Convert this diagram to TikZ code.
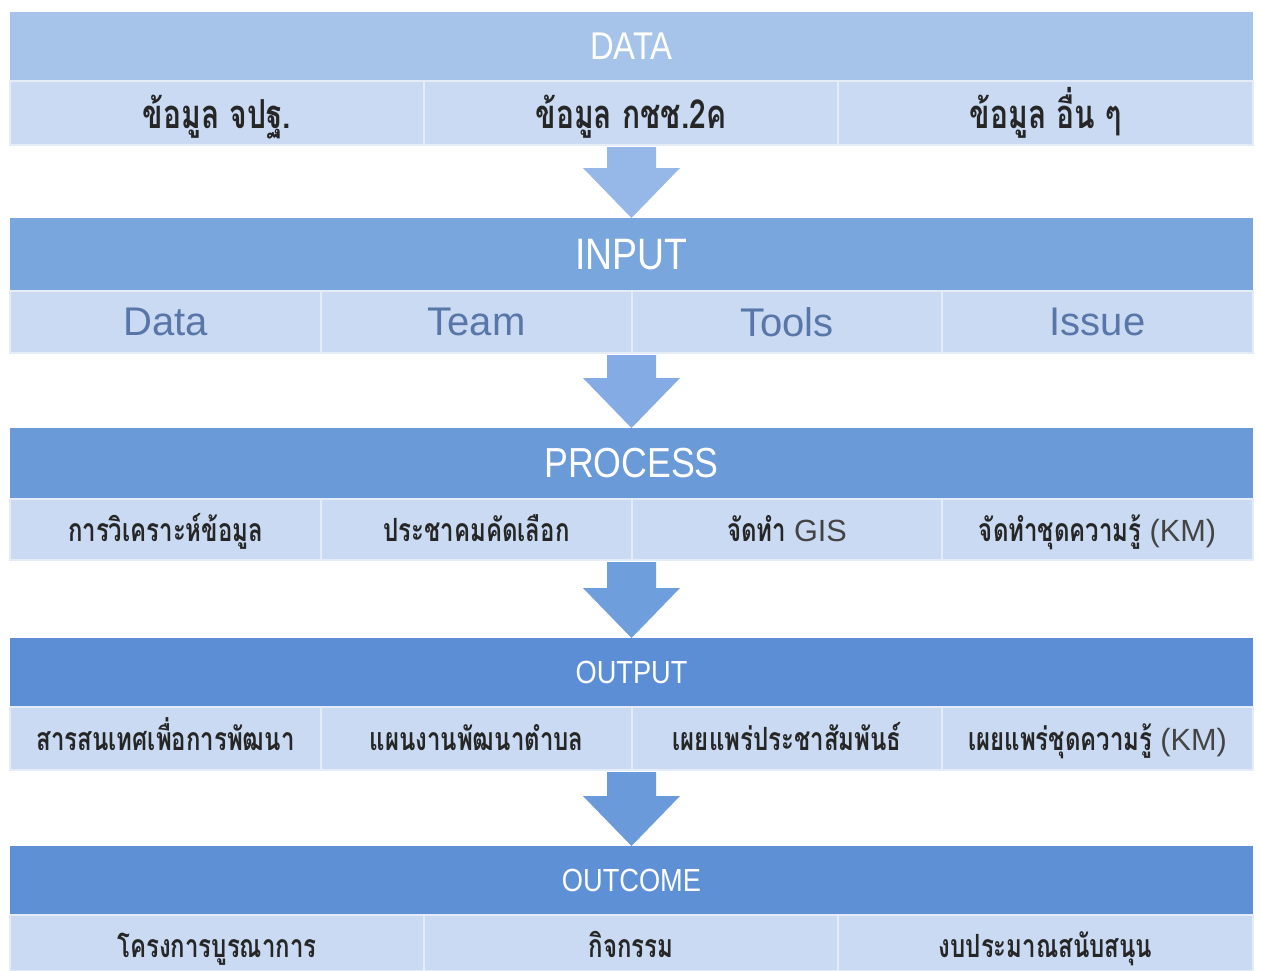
\documentclass[tikz,border=0pt]{standalone}
\usepackage{fontspec}
\setmainfont{Liberation Sans}
\newfontfamily\hdrfont[FakeStretch=0.85]{Liberation Sans}
\newfontfamily\thfont[Script=Thai,FakeStretch=0.75]{Loma}
\usetikzlibrary{calc}
\definecolor{hdrA}{HTML}{A6C3EA}
\definecolor{hdrB}{HTML}{7AA6DE}
\definecolor{hdrC}{HTML}{6B9AD8}
\definecolor{hdrD}{HTML}{5C8ED6}
\definecolor{hdrE}{HTML}{5E90D6}
\definecolor{subc}{HTML}{C9DAF2}
\definecolor{divc}{HTML}{E4ECF8}
\definecolor{arrA}{HTML}{96B8E9}
\definecolor{arrB}{HTML}{84ABE3}
\definecolor{arrC}{HTML}{6F9EDC}
\definecolor{arrD}{HTML}{6A9ADA}
\definecolor{thtext}{HTML}{262626}
\definecolor{intext}{HTML}{5877A8}
\definecolor{lttext}{HTML}{444444}
\newcommand\thA{\thfont\bfseries\fontsize{30}{30}\selectfont}
\newcommand\thB{\thfont\bfseries\fontsize{24}{25}\selectfont}
\newcommand\ltB[1]{{\normalfont\color{lttext}\fontsize{23}{23}\selectfont #1}}
\newcommand\cellbox[7]{\node[#6, minimum width={(#4-#2)*0.75pt}, minimum height={(#5-#3)*0.75pt}] (#1) at ({(#2+#4)/2},{(#3+#5)/2}) {#7};}
\newcommand\blockarrow[3]{%
  \fill[#3] ($(#1)+(-24.5,2)$) -- ($(#2)+(-24.5,-50)$) -- ($(#2)+(-48.5,-50)$) -- (#2)
    -- ($(#2)+(48.5,-50)$) -- ($(#2)+(24.5,-50)$) -- ($(#1)+(24.5,2)$) -- cycle;}
\begin{document}
\begin{tikzpicture}[x=0.75pt,y=-0.75pt,
  hdr/.style={fill=#1, text=white, inner sep=0pt, outer sep=0pt},
  sub/.style={fill=subc, draw=divc, line width=1pt, inner sep=0pt, outer sep=0pt, text=thtext},
  subA/.style={sub, text height=25.5pt, text depth=3pt},
  subB/.style={sub, text height=20.5pt, text depth=3pt},
  subC/.style={sub, text height=24pt, text depth=3pt},
  insub/.style={sub, text=intext, font=\fontsize{30}{30}\selectfont}]
\useasboundingbox[fill=white] (0,0) rectangle (1261,971);

% DATA
\cellbox{dataH}{10}{12}{1253}{81}{hdr=hdrA, font=\hdrfont\fontsize{29}{29}\selectfont}{DATA}
\cellbox{dataA}{10}{81}{424}{145}{subA}{\thA ข้อมูล จปฐ.}
\cellbox{dataB}{424}{81}{838}{145}{subA}{\thA ข้อมูล กชช.2ค}
\cellbox{dataC}{838}{81}{1253}{145}{subA}{\thA ข้อมูล อื่น ๆ}

% INPUT
\cellbox{inH}{10}{218}{1253}{291}{hdr=hdrB, font=\hdrfont\fontsize{33}{33}\selectfont}{INPUT}
\cellbox{inA}{10}{291}{321}{353}{insub}{Data}
\cellbox{inB}{321}{291}{632}{353}{insub}{Team}
\cellbox{inC}{632}{291}{942}{353}{insub}{Tools}
\cellbox{inD}{942}{291}{1253}{353}{insub}{Issue}

% PROCESS
\cellbox{prH}{10}{428}{1253}{499}{hdr=hdrC, font=\hdrfont\fontsize{31.5}{31.5}\selectfont}{PROCESS}
\cellbox{prA}{10}{499}{321}{560}{subB}{\thB การวิเคราะห์ข้อมูล}
\cellbox{prB}{321}{499}{632}{560}{subB}{\thB ประชาคมคัดเลือก}
\cellbox{prC}{632}{499}{942}{560}{subB}{\thB จัดทำ \ltB{GIS}}
\cellbox{prD}{942}{499}{1253}{560}{subB}{\thB จัดทำชุดความรู้ \ltB{(KM)}}

% OUTPUT
\cellbox{ouH}{10}{638}{1253}{707}{hdr=hdrD, font=\hdrfont\fontsize{24}{24}\selectfont}{OUTPUT}
\cellbox{ouA}{10}{707}{321}{770}{subB}{\thB สารสนเทศเพื่อการพัฒนา}
\cellbox{ouB}{321}{707}{632}{770}{subB}{\thB แผนงานพัฒนาตำบล}
\cellbox{ouC}{632}{707}{942}{770}{subB}{\thB เผยแพร่ประชาสัมพันธ์}
\cellbox{ouD}{942}{707}{1253}{770}{subB}{\thB เผยแพร่ชุดความรู้ \ltB{(KM)}}

% OUTCOME
\cellbox{ocH}{10}{846}{1253}{915}{hdr=hdrE, font=\hdrfont\fontsize{24}{24}\selectfont}{OUTCOME}
\cellbox{ocA}{10}{915}{424}{971}{subC}{\thB โครงการบูรณาการ}
\cellbox{ocB}{424}{915}{838}{971}{subC}{\thB กิจกรรม}
\cellbox{ocC}{838}{915}{1253}{971}{subC}{\thB งบประมาณสนับสนุน}

% arrows
\coordinate (s1) at (dataH.south |- dataB.south);
\coordinate (s2) at (inH.south |- inB.south);
\coordinate (s3) at (prH.south |- prB.south);
\coordinate (s4) at (ouH.south |- ouB.south);
\blockarrow{s1}{inH.north}{arrA}
\blockarrow{s2}{prH.north}{arrB}
\blockarrow{s3}{ouH.north}{arrC}
\blockarrow{s4}{ocH.north}{arrD}
\end{tikzpicture}
\end{document}
